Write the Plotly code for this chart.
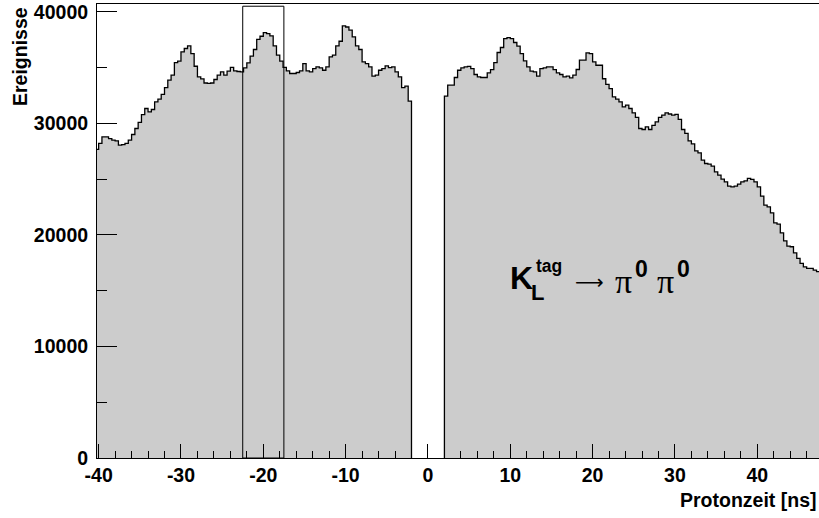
import numpy as np
import plotly.graph_objects as go

# Proton time histogram, 0.4 ns bins
bin_width = 0.4

# bins left of the prompt gap (first bin starts at -40.4 ns)
left_start = -40.4
left_counts = [
    27660, 28200, 28790, 28790, 28640, 28500, 28430, 28040, 28100, 28200,
    28490, 29000, 29540, 30080, 30790, 31330, 31030, 31240, 31920, 32170,
    32590, 33210, 33870, 34320, 35450, 35570, 36400, 36710, 36940, 36260,
    35120, 34160, 33980, 33620, 33580, 33620, 33930, 34320, 34610, 34320,
    34680, 35010, 34700, 34650, 34610, 34970, 35420, 36020, 36620, 37520,
    37810, 38140, 38050, 37840, 36940, 36110, 35570, 35010, 34700, 34470,
    34470, 34560, 34700, 35360, 34700, 34610, 34910, 35060, 34970, 34760,
    35060, 35960, 36110, 36940, 37360, 38730, 38640, 38350, 37750, 36940,
    36620, 35510, 35360, 35060, 34230, 34320, 34760, 34910, 35150, 35000,
    35060, 34610, 34160, 33210, 33330, 31990,
]

# bins right of the prompt gap (first bin starts at +2.0 ns)
right_start = 2.0
right_counts = [
    32440, 33420, 33420, 34110, 34760, 34970, 35060, 35100, 34910, 34380,
    34170, 34110, 34110, 34520, 34810, 35450, 36350, 36800, 37600, 37690,
    37600, 37250, 36920, 36260, 35600, 35060, 34680, 34620, 34230, 34910,
    34970, 35060, 35060, 34810, 34520, 34380, 34170, 34230, 34080, 34320,
    34830, 35660, 35660, 36310, 36260, 35510, 35210, 35210, 34000, 33500,
    33120, 32370, 32170, 31920, 31480, 31630, 31330, 30940, 30530, 29540,
    29450, 29690, 29450, 29820, 30130, 30530, 30740, 30940, 30840, 30740,
    30800, 30350, 29450, 29100, 28430, 28160, 27530, 27350, 26700, 26400,
    26340, 26160, 25650, 25360, 25000, 24760, 24370, 24310, 24370, 24550,
    24760, 24850, 25060, 24970, 24760, 24310, 23480, 22670, 22520, 21980,
    21080, 20960, 20190, 19470, 19000, 18940, 18390, 17890, 17450, 17140,
    17000, 17000, 16850, 16700,
]

# selected time window
window_lo, window_hi, window_top = -22.5, -17.5, 40500

x_tick_vals = [-40, -30, -20, -10, 0, 10, 20, 30, 40]
x_tick_text = ["-40", "-30", "-20", "-10", "0", "10", "20", "30", "40"]
y_tick_vals = [0, 10000, 20000, 30000, 40000]
y_tick_text = ["0", "10000", "20000", "30000", "40000"]

X_RANGE = [-40.2, 47.5]
Y_RANGE = [0, 40700]

W, H = 819, 518
ML, MR, MT, MB = 97, 0, 4, 60
PW, PH = W - ML - MR, H - MT - MB

FILL = "#cccccc"
FONT = "Liberation Sans"


def step_outline(start, counts):
    counts = np.asarray(counts, dtype=float)
    edges = start + bin_width * np.arange(len(counts) + 1)
    xs = np.concatenate([[edges[0]], edges[:-1], [edges[-1], edges[-1]]])
    ys = np.concatenate([[0.0], counts, [counts[-1], 0.0]])
    return xs, ys


fig = go.Figure()
for start, counts in ((left_start, left_counts), (right_start, right_counts)):
    xs, ys = step_outline(start, counts)
    fig.add_trace(go.Scatter(
        x=xs, y=ys, mode="lines", line_shape="hv",
        line=dict(color="black", width=1.3),
        fill="tozeroy", fillcolor=FILL,
        hoverinfo="skip", showlegend=False,
    ))

fig.add_shape(type="rect", xref="x", yref="y",
              x0=window_lo, x1=window_hi, y0=0, y1=window_top,
              line=dict(color="black", width=1), fillcolor="rgba(0,0,0,0)")


def px_to_paper(px, py):
    return (px - ML) / PW, (H - MB - py) / PH


def label(text, px, py, size, bold=True, family=FONT, xanchor="left",
          yanchor="middle", angle=0):
    x, y = px_to_paper(px, py)
    fig.add_annotation(
        text=text, xref="paper", yref="paper", x=x, y=y,
        xanchor=xanchor, yanchor=yanchor, showarrow=False, textangle=angle,
        font=dict(family=family, size=size, color="black",
                  weight="bold" if bold else "normal"),
        borderpad=0,
    )


# axis titles
label("Ereignisse", 19.5, 6, 19.5, xanchor="center", yanchor="top", angle=-90)
label("Protonzeit [ns]", 818, 500, 19.5, xanchor="right")

# decay channel label
label("K", 509, 278, 32)
label("tag", 535, 266, 17.5)
label("L", 530, 292, 22)
label("\u27f6", 574, 282, 20, bold=False, family="DejaVu Sans")
label("\u03c0", 614, 281, 34, bold=False, family="Liberation Serif")
label("0", 634, 269, 23)
label("\u03c0", 656, 281, 34, bold=False, family="Liberation Serif")
label("0", 676, 269, 23)

tick_font = dict(family=FONT, size=19.5, color="black", weight="bold")

fig.update_layout(
    width=W, height=H,
    margin=dict(l=ML, r=MR, t=MT, b=MB, pad=0),
    paper_bgcolor="white", plot_bgcolor="white",
    xaxis=dict(
        range=X_RANGE, showgrid=False, zeroline=False,
        showline=True, linecolor="black", linewidth=1, mirror=True,
        ticks="inside", ticklen=14, tickwidth=1, tickcolor="black",
        tickvals=x_tick_vals, ticktext=x_tick_text, tickfont=tick_font,
        ticklabelstandoff=0,
        minor=dict(ticks="inside", ticklen=7, tickwidth=1, tickcolor="black",
                   dtick=2, tick0=0, showgrid=False),
    ),
    yaxis=dict(
        range=Y_RANGE, showgrid=False, zeroline=False,
        showline=True, linecolor="black", linewidth=1,
        ticks="inside", ticklen=20, tickwidth=1, tickcolor="black",
        tickvals=y_tick_vals, ticktext=y_tick_text, tickfont=tick_font,
        ticklabelstandoff=4,
        minor=dict(ticks="inside", ticklen=10, tickwidth=1, tickcolor="black",
                   dtick=5000, tick0=0, showgrid=False),
    ),
)

fig.write_html("out.html")
